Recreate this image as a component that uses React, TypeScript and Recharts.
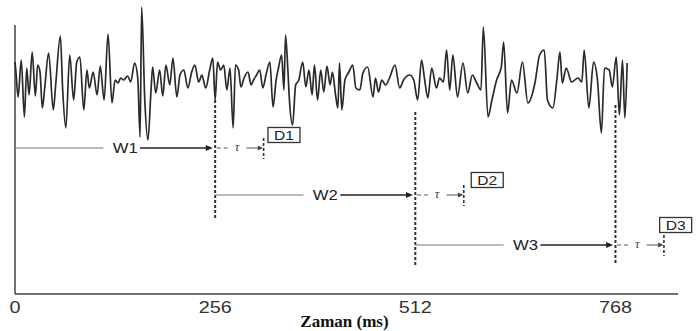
import { LineChart, Line, XAxis, YAxis, ReferenceLine, ReferenceDot } from 'recharts';

// signal turning points (time in ms, amplitude in arbitrary units)
const signalTimes = [
  0, 1, 4, 8, 12, 15, 18, 22, 26, 29, 32, 35, 38, 43, 49, 52, 58, 61, 65, 70,
  75, 79, 83, 88, 92, 95, 100, 105, 109, 114, 119, 124, 128, 132, 135, 139, 144, 148, 153, 157,
  160, 162, 166, 170, 174, 176, 180, 185, 189, 193, 198, 202, 207, 211, 216, 221, 226, 230, 235, 239,
  244, 249, 253, 256, 259, 263, 267, 271, 275, 279, 282, 286, 289, 293, 298, 302, 305, 309, 313, 317,
  321, 326, 330, 334, 337, 341, 344, 346, 349, 351, 355, 359, 363, 368, 372, 376, 380, 383, 387, 391,
  395, 399, 403, 406, 410, 413, 415, 418, 422, 427, 432, 436, 441, 445, 451, 458, 461, 465, 469, 474,
  479, 486, 492, 497, 505, 510, 515, 520, 524, 528, 533, 539, 543, 548, 552, 556, 560, 566, 573, 579,
  585, 590, 596, 599, 605, 610, 616, 622, 625, 630, 635, 642, 649, 656, 665, 671, 677, 681, 688, 693,
  697, 700, 705, 712, 720, 725, 728, 734, 740, 745, 750, 754, 760, 764, 769, 773, 777, 780, 783,
];
const signalValues = [
  18, 10, -17, 20, -37, 12, -15, 28, -16, 15, 8, -28, -8, 27, -30, -5, 44, -10, -48, 25,
  -20, 18, 23, -30, 10, -8, 8, -15, 14, -20, 46, -23, 0, -3, 2, 0, 4, -2, 17, 2,
  -57, 73, -20, -60, -10, 13, -13, 10, -16, 15, -5, 22, -17, 5, 10, -8, 8, 15, -2, 5,
  -8, 10, 22, -20, 18, 10, 15, -10, 12, -48, 15, 10, -7, 2, 8, -5, 0, 5, 10, -8,
  5, 18, -27, 0, 12, 25, -10, 45, 10, -20, -45, -5, 0, 18, -7, 10, -15, 15, -20, 10,
  -12, 14, -5, 8, -15, -28, 17, -30, 0, 8, 15, -8, -10, 7, 13, -17, 2, -12, 0, -5,
  2, 15, -8, 0, 5, 0, -20, 20, 0, -18, 12, -8, 2, -2, 30, -10, 25, -17, 17, -13,
  5, -2, -10, 53, -37, -20, 0, 13, 38, -33, 0, -13, 18, -23, -3, 25, 30, -20, -28, 0,
  28, -3, 12, -2, 2, -2, 30, -28, 18, 0, -53, 12, 10, -7, 23, -35, 20, -38, 17,
];

const xTicks = [0, 256, 512, 768];
const windowStarts = [0, 256, 512];
const windowLabels = ['W1', 'W2', 'W3'];
const detectLabels = ['D1', 'D2', 'D3'];
const rowLevels = [-68, -115, -165];
const boxTimes = [344, 604, 845];
const boxLevels = [-55, -100, -145];
const cutTimes = [256, 512, 768];
const cutTops = [-20, -32, -25];
const cutBottoms = [-138, -185, -185];
const tau = 62;

const data = signalTimes.map((t, i) => ({ t, v: signalValues[i] }));

const DARK = '#222';
const GREY = '#777';

const Tick = ({ x, y, payload }: any) => {
  const s = String(payload.value);
  return (
    <text x={x} y={y + 11} textAnchor="middle" fontFamily="Liberation Sans, Arial" fontSize={16}
      fill="#333" textLength={s.length * 11} lengthAdjust="spacingAndGlyphs">
      {s}
    </text>
  );
};

const arrowHead = ({ cx, cy }: any) => (
  <polygon points={`${cx},${cy} ${cx - 7},${cy - 3} ${cx - 7},${cy + 3}`} fill={DARK} />
);

const smallArrow = ({ cx, cy }: any) => (
  <polygon points={`${cx},${cy} ${cx - 5},${cy - 2.5} ${cx - 5},${cy + 2.5}`} fill="#444" />
);

const textShape = (label: string) => ({ cx, cy }: any) => (
  <text x={cx} y={cy + 5} textAnchor="middle" fontFamily="Liberation Sans, Arial" fontSize={14}
    fill={DARK} textLength={label.length * 12.5} lengthAdjust="spacingAndGlyphs">
    {label}
  </text>
);

const tauShape = ({ cx, cy }: any) => (
  <text x={cx} y={cy + 3} textAnchor="middle" fontFamily="Liberation Serif, serif" fontStyle="italic"
    fontSize={13} fill="#444">
    τ
  </text>
);

const boxShape = (label: string) => ({ cx, cy }: any) => (
  <g>
    <rect x={cx - 16} y={cy - 7.5} width={32} height={15} fill="#fff" stroke="#333" strokeWidth={1.3} />
    <text x={cx} y={cy + 5} textAnchor="middle" fontFamily="Liberation Sans, Arial" fontSize={13}
      fill={DARK} textLength={label.length * 10} lengthAdjust="spacingAndGlyphs">
      {label}
    </text>
  </g>
);

export default function App() {
  return (
    <div style={{ position: 'absolute', left: 0, top: 0, width: 696, height: 331, background: '#fff' }}>
      <LineChart width={696} height={331} data={data} margin={{ top: 4, right: 18, bottom: 0, left: 15 }}>
        <XAxis
          dataKey="t"
          type="number"
          domain={[0, 848]}
          ticks={xTicks}
          tick={<Tick />}
          tickLine={false}
          axisLine={{ stroke: '#444', strokeWidth: 1.5 }}
          height={37}
          label={{
            content: ({ viewBox }: any) => (
              <text x={viewBox.x + viewBox.width / 2 - 2} y={viewBox.y + 33} textAnchor="middle"
                fontFamily="Liberation Serif, serif" fontWeight="bold" fontSize={17} fill="#111">
                Zaman (ms)
              </text>
            ),
          }}
        />
        <YAxis hide domain={[-214, 76]} type="number" allowDataOverflow />
        <ReferenceLine segment={[{ x: 0, y: 55 }, { x: 0, y: -214 }]} stroke="#444" strokeWidth={1.5} />

        {cutTimes.map((t, i) => (
          <ReferenceLine key={'cut' + i} segment={[{ x: t, y: cutTops[i] }, { x: t, y: cutBottoms[i] }]}
            stroke="#333" strokeWidth={2} strokeDasharray="3 2" />
        ))}

        {windowStarts.map((s, i) => [
          <ReferenceLine key={'g' + i} segment={[{ x: s, y: rowLevels[i] }, { x: s + 113, y: rowLevels[i] }]}
            stroke={GREY} strokeWidth={1} />,
          <ReferenceDot key={'wl' + i} x={s + 141} y={rowLevels[i]} r={1} shape={textShape(windowLabels[i])} />,
          <ReferenceLine key={'d' + i} segment={[{ x: s + 160, y: rowLevels[i] }, { x: s + 250, y: rowLevels[i] }]}
            stroke={DARK} strokeWidth={1.4} />,
          <ReferenceDot key={'ah' + i} x={s + 253} y={rowLevels[i]} r={1} shape={arrowHead} />,
          <ReferenceLine key={'td' + i} segment={[{ x: s + 258, y: rowLevels[i] }, { x: s + 276, y: rowLevels[i] }]}
            stroke="#555" strokeWidth={1} strokeDasharray="4 3" />,
          <ReferenceDot key={'tl' + i} x={s + 284} y={rowLevels[i]} r={1} shape={tauShape} />,
          <ReferenceLine key={'ta' + i} segment={[{ x: s + 296, y: rowLevels[i] }, { x: s + 256 + tau - 2, y: rowLevels[i] }]}
            stroke="#555" strokeWidth={1} />,
          <ReferenceDot key={'sa' + i} x={s + 256 + tau - 1} y={rowLevels[i]} r={1} shape={smallArrow} />,
          <ReferenceLine key={'te' + i}
            segment={[{ x: s + 256 + tau, y: rowLevels[i] + 10 }, { x: s + 256 + tau, y: rowLevels[i] - 11 }]}
            stroke="#333" strokeWidth={1.6} strokeDasharray="3 2" />,
          <ReferenceDot key={'bx' + i} x={boxTimes[i]} y={boxLevels[i]} r={1} shape={boxShape(detectLabels[i])} />,
        ])}

        <Line
          type="monotoneX"
          dataKey="v"
          stroke="#2a2a2a"
          strokeWidth={1.7}
          strokeLinejoin="round"
          dot={false}
          isAnimationActive={false}
        />
      </LineChart>
    </div>
  );
}
